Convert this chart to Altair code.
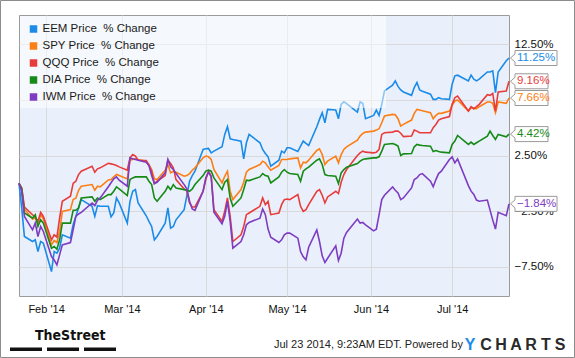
import altair as alt
import pandas as pd

# ---------------- data ----------------
series = ["EEM", "SPY", "QQQ", "DIA", "IWM"]
colors = ["#1a8be8", "#fd7e14", "#e83c3c", "#168a16", "#7d3cc2"]

holidays = ["2014-02-17", "2014-04-18", "2014-05-26", "2014-07-04"]
dates = [d.strftime("%Y-%m-%d") for d in
         pd.bdate_range("2014-01-22", "2014-07-22", freq="C", holidays=holidays)]

eem = [0, -2.2, -4.77, -5.22, -5.07, -6.12, -5.22, -5.37,
       -7.92, -6.12, -6.27, -5.82, -4.62, -4.92, -3.72, -2.96, -2.21, -1.46, -2.06, -2.96, -2.0, -2.06, -2.06, -3.0, -2.66, -1.31, -1.76,
       -3.57, -1.61, -0.71, -0.56, -1.76, -2.91, -3.42, -3.87, -5.07, -4.77, -3.57, -2.21, -4.02, -3.87, -3.27, -2.36, -1.1, 0.19, 0.7, 1.09, 3.04,
       3.1, 3.13, 2.74, 2.89, 3.28, 4.39, 5.08, 4.0, 3.94, 3.79, 2.2, 3.64, 4.39, 3.64, 3.04, 2.68, 2.38, 1.54, 2.08, 2.89, 2.74,
       3.19, 3.19, 2.86, 3.34, 3.79, 3.58, 3.4, 5.08, 5.74, 6.34, 5.44, 6.64, 6.58, 5.8, 7.09, 7.33, 7.15, 6.4, 7.3, 7.18, 5.8,
       6.1, 6.58, 6.1, 7.09, 8.3, 8.81, 9.2, 8.7, 8.38, 8.2, 7.9, 8.6, 9.05, 8.38, 8.26, 8.0, 7.54, 7.54, 7.69, 7.6, 7.54,
       8.9, 9.65, 9.71, 9.2, 9.71, 9.35, 9.2, 9.35, 10.0, 10.0, 10.1, 8.14, 10.0, 11.0, 11.25]

spy = [0, -0.41, -2.3, -3.2, -3.1, -3.57, -2.82, -3.2,
       -5.52, -5.13, -5.31, -4.32, -2.52, -2.36, -1.46, -1.34, -0.62, -0.26, -0.11, -0.62, -0.26, -0.32, 0.3, 0.34, 0.58, 0.8, 0.7,
       0.4, 2.08, 2.14, 2.2, 2.14, 1.99, 1.69, 1.24, 0.4, 0.34, 1.18, 1.69, 0.94, 1.09, 1.0, 0.64, 0.7, 0.88, 1.18, 1.39, 2.29,
       2.45, 2.38, 2.14, 1.24, 0.04, 0.64, 1.09, -0.71, -1.46, -0.56, 0.1, 1.0, 1.24, 1.69, 1.99, 1.84, 1.48, 1.18, 1.6, 2.14, 2.14,
       2.14, 2.2, 2.29, 1.39, 1.9, 1.84, 2.08, 2.95, 3.1, 2.59, 1.69, 1.99, 2.44, 1.84, 2.59, 3.04, 3.28, 3.88, 4.24, 4.48, 4.6,
       4.69, 4.78, 4.9, 5.44, 6.04, 6.19, 6.15, 5.8, 5.14, 5.29, 5.68, 6.28, 6.64, 6.58, 6.52, 6.34, 5.8, 6.1, 6.28, 6.28, 6.49,
       7.0, 7.39, 7.48, 6.49, 6.79, 6.7, 6.7, 6.88, 7.3, 7.3, 7.18, 6.34, 7.3, 7.18, 7.66]

qqq = [0, -0.41, -2.12, -2.82, -3.03, -3.42, -2.61, -2.97,
       -5.07, -4.62, -4.83, -3.12, -1.61, -1.16, 0.0, 0.19, 0.79, 1.09, 1.54, 1.0, 1.3, 1.39, 1.8, 1.75, 1.69, 1.6, 1.48,
       1.18, 2.29, 2.59, 2.44, 2.08, 2.05, 1.6, 1.09, -0.02, 0.19, 0.7, 2.08, 1.78, 1.39, 0.34, -0.5, -0.71, -1.76, -2.12, -2.12, -0.71,
       0.34, 1.09, 0.64, -2.36, -3.42, -2.51, -1.31, -2.96, -5.22, -4.62, -3.87, -2.81, -2.66, -2.06, -1.31, -1.91, -1.61, -2.81, -2.66, -1.91, -1.46,
       -1.4, -1.46, -1.01, -2.06, -2.52, -2.36, -1.91, -0.71, -0.56, -1.07, -1.76, -1.22, -0.71, -0.92, 0.1, 0.79, 1.24, 2.5, 2.74, 2.89, 2.8,
       2.74, 2.8, 3.04, 4.39, 4.54, 4.6, 4.69, 4.7, 4.5, 4.2, 4.25, 4.78, 4.69, 4.54, 4.54, 4.54, 5.0, 5.29, 5.68, 5.8, 6.0,
       7.09, 7.69, 7.84, 6.49, 6.88, 6.7, 6.88, 7.09, 7.96, 7.9, 8.08, 6.49, 8.2, 8.29, 9.16]

dia = [0, -0.5, -2.66, -3.12, -2.82, -3.87, -3.27, -3.57,
       -5.82, -5.67, -5.91, -5.07, -3.57, -3.57, -2.42, -2.42, -2.21, -1.31, -1.22, -1.61, -1.31, -1.46, -1.0, -1.01, -0.71, -0.32, -0.5,
       -1.1, 0.34, 0.49, 0.58, 0.58, 0.58, 0.19, -0.11, -1.31, -1.61, -0.71, -0.26, -0.56, -0.11, -0.41, -0.56, -0.62, -0.71, -0.5, -0.11, 0.7,
       1.1, 1.18, 1.09, 0.49, -0.56, 0.1, 0.34, -1.31, -2.06, -1.31, -0.56, 0.28, 0.25, 0.58, 0.88, 0.7, 0.64, 0.04, 0.58, 1.0, 1.24,
       1.0, 0.88, 0.8, 0.19, 1.09, 1.3, 1.45, 2.08, 2.2, 1.69, 0.79, 0.7, 0.64, -0.02, 0.94, 1.24, 1.45, 1.78, 1.99, 2.14, 2.2,
       2.29, 2.29, 2.38, 2.89, 3.49, 3.58, 3.49, 3.34, 2.5, 2.65, 2.68, 3.28, 3.49, 3.43, 3.4, 3.34, 2.86, 2.95, 2.86, 2.8, 2.74,
       3.49, 3.79, 4.3, 3.49, 3.7, 3.49, 3.64, 3.79, 4.24, 4.69, 4.3, 3.94, 4.39, 4.18, 4.42]

iwm = [0, -0.71, -2.97, -4.17, -3.57, -4.77, -3.87, -4.32,
       -6.57, -6.87, -7.32, -6.42, -5.52, -5.31, -4.17, -2.97, -2.75, -2.6, -1.76, -2.0, -1.52, -1.31, -0.3, 0.05, 0.4, 0.58, 0.28,
       -0.26, 2.29, 2.2, 2.14, 2.08, 1.9, 1.6, 0.7, -0.02, 0.1, 0.94, 2.14, 1.48, 1.24, 0.88, -0.11, -0.5, -1.61, -2.3, -2.42, -0.71,
       0.5, 1.0, 0.58, -2.6, -3.62, -2.96, -1.61, -3.42, -5.82, -5.22, -4.62, -3.72, -3.51, -3.12, -2.3, -2.81, -4.1, -4.83, -5.31, -5.07, -4.62,
       -4.47, -4.47, -4.92, -6.12, -6.6, -6.87, -5.73, -4.17, -5.22, -6.51, -7.11, -6.72, -5.61, -6.93, -6.27, -4.92, -4.41, -3.21, -3.57, -3.51, -3.72,
       -4.26, -4.11, -2.82, -1.46, -1.07, -0.32, -0.62, -0.86, -1.46, -1.31, -0.41, 0.34, 0.49, 0.79, 0.88, 0.19, -0.3, 0.34, 0.88, 1.09, 2.14,
       2.38, 1.84, 2.2, -0.2, -0.7, -1.0, -1.5, -1.6, -1.5, -2.4, -3.3, -4.1, -2.6, -2.9, -1.84]

values = {"EEM": eem, "SPY": spy, "QQQ": qqq, "DIA": dia, "IWM": iwm}

y_ticks = [-7.5, -2.5, 2.5, 7.5, 12.5]
month_ticks = [(2014, m) for m in [2, 3, 4, 5, 6, 7]]
footer_text = "Jul 23 2014, 9:23AM EDT. Powered by"
brand_letters = list("YCHARTS")
logo_text = "TheStreet"

# ---------------- build tables ----------------
rows = []
for s_i, s in enumerate(series):
    for d, v in zip(dates, values[s]):
        rows.append({"date": d, "pct": v, "series": s, "order": s_i})
df = pd.DataFrame(rows)
last = df[df["date"] == dates[-1]].reset_index(drop=True)

FONT = "Liberation Sans"
W, H = 490, 281

x_enc = alt.X(
    "date:T",
    scale=alt.Scale(type="utc", domain=[alt.DateTime(year=2014, month=1, date=22, utc=True),
                                        alt.DateTime(year=2014, month=7, date=22, utc=True)]),
    axis=alt.Axis(values=[alt.DateTime(year=y, month=m, date=1, utc=True) for y, m in month_ticks],
                  format="%b '%y", labelAngle=0, title=None, ticks=False, domain=False,
                  grid=True, gridColor="#d9d9d9", gridWidth=1, labelPadding=7,
                  labelFontSize=11, labelColor="#111", labelFont=FONT,
                  labelOverlap=False, labelFlush=False),
)
y_enc = alt.Y(
    "pct:Q",
    scale=alt.Scale(domain=[-10.11, 15.11], nice=False, zero=False),
    axis=alt.Axis(orient="right", values=y_ticks,
                  labelExpr="format(datum.value, '.2f') + '%'",
                  title=None, ticks=False, domain=False, grid=True,
                  gridColor="#d9d9d9", gridWidth=1, labelPadding=5,
                  labelFontSize=11.5, labelColor="#111", labelFont=FONT),
)
color_enc = alt.Color("series:N", scale=alt.Scale(domain=series, range=colors), legend=None)

lines = alt.Chart(df).mark_line(strokeWidth=1.6).encode(
    x=x_enc, y=y_enc, color=color_enc, detail="series:N",
    order=alt.Order("date:T"),
)

one = pd.DataFrame({"k": [0]})

layers = [lines]

# legend box (semi-transparent white)
layers.append(alt.Chart(one).mark_rect(fill="white", fillOpacity=0.5).encode(
    x=alt.value(1), x2=alt.value(367), y=alt.value(1), y2=alt.value(93)))

for i, (s, c) in enumerate(zip(series, colors)):
    yy = 14 + 17 * i
    layers.append(alt.Chart(one).mark_square(size=56, color=c, opacity=1).encode(
        x=alt.value(14.5), y=alt.value(yy)))
    layers.append(alt.Chart(one).mark_text(
        text=s + " Price\u00a0 % Change", align="left", baseline="middle",
        fontSize=11.5, font=FONT, color="#1a1a1a").encode(
        x=alt.value(23.5), y=alt.value(yy)))

# value flags at right
FLAG_WIDE = "M1.5,0 L6,-4 L6,-7.5 L48,-7.5 L48,7.5 L6,7.5 L6,4 Z"
FLAG_NARROW = "M1.5,0 L6,-4 L6,-7.5 L39,-7.5 L39,7.5 L6,7.5 L6,4 Z"
for s, c in zip(series, colors):
    sub = last[last["series"] == s]
    lab = "%.2f%%" % sub["pct"].iloc[0]
    shape = FLAG_WIDE if len(lab) >= 6 else FLAG_NARROW
    layers.append(alt.Chart(sub).mark_point(
        shape=shape, size=4, filled=True, fill="white", stroke="#9a9a9a",
        strokeWidth=1, opacity=1, fillOpacity=1, strokeOpacity=1).encode(
        x=alt.X("date:T"), y=alt.Y("pct:Q")))
    layers.append(alt.Chart(sub).transform_calculate(
        lbl="format(datum.pct, '.2f') + '%'").mark_text(
        align="left", baseline="middle", dx=8, fontSize=11.5, font=FONT, color=c).encode(
        x=alt.X("date:T"), y=alt.Y("pct:Q"), text="lbl:N"))

# footer
layers.append(alt.Chart(one).mark_text(
    text=logo_text, align="left", baseline="middle", fontSize=14, fontWeight="bold",
    font="DejaVu Sans Condensed, Liberation Sans", color="#111").encode(
    x=alt.value(16), y=alt.value(321)))
for x0 in [-9, 28, 65]:
    layers.append(alt.Chart(one).mark_rect(color="#111").encode(
        x=alt.value(x0), x2=alt.value(x0 + 32), y=alt.value(332.5), y2=alt.value(336)))
layers.append(alt.Chart(one).mark_text(
    text=footer_text, align="left", baseline="middle", fontSize=11,
    font=FONT, color="#222").encode(x=alt.value(255), y=alt.value(330)))
brand_x = [451, 467, 482, 497, 512, 527, 541]
for ch, bx in zip(brand_letters, brand_x):
    layers.append(alt.Chart(one).mark_text(
        text=ch, align="center", baseline="middle", fontSize=16, fontWeight="bold",
        font=FONT, color="#1a8be8" if ch == "Y" else "#2a2a2a").encode(
        x=alt.value(bx), y=alt.value(330)))

# outer frame
layers.append(alt.Chart(one).mark_rect(fill=None, stroke="#8c8c8c", strokeWidth=1).encode(
    x=alt.value(-18.5), x2=alt.value(555.5), y=alt.value(-14.5), y2=alt.value(342.5)))

chart = alt.layer(*layers).properties(
    width=W, height=H,
    padding={"left": 19, "top": 15, "right": 66, "bottom": 62},
    autosize="none", background="white",
).configure_view(fill="#eaf0fb", stroke="#9b9b9b", strokeWidth=1)

chart.save("out.html", embed_options={"renderer": "svg", "actions": False})
